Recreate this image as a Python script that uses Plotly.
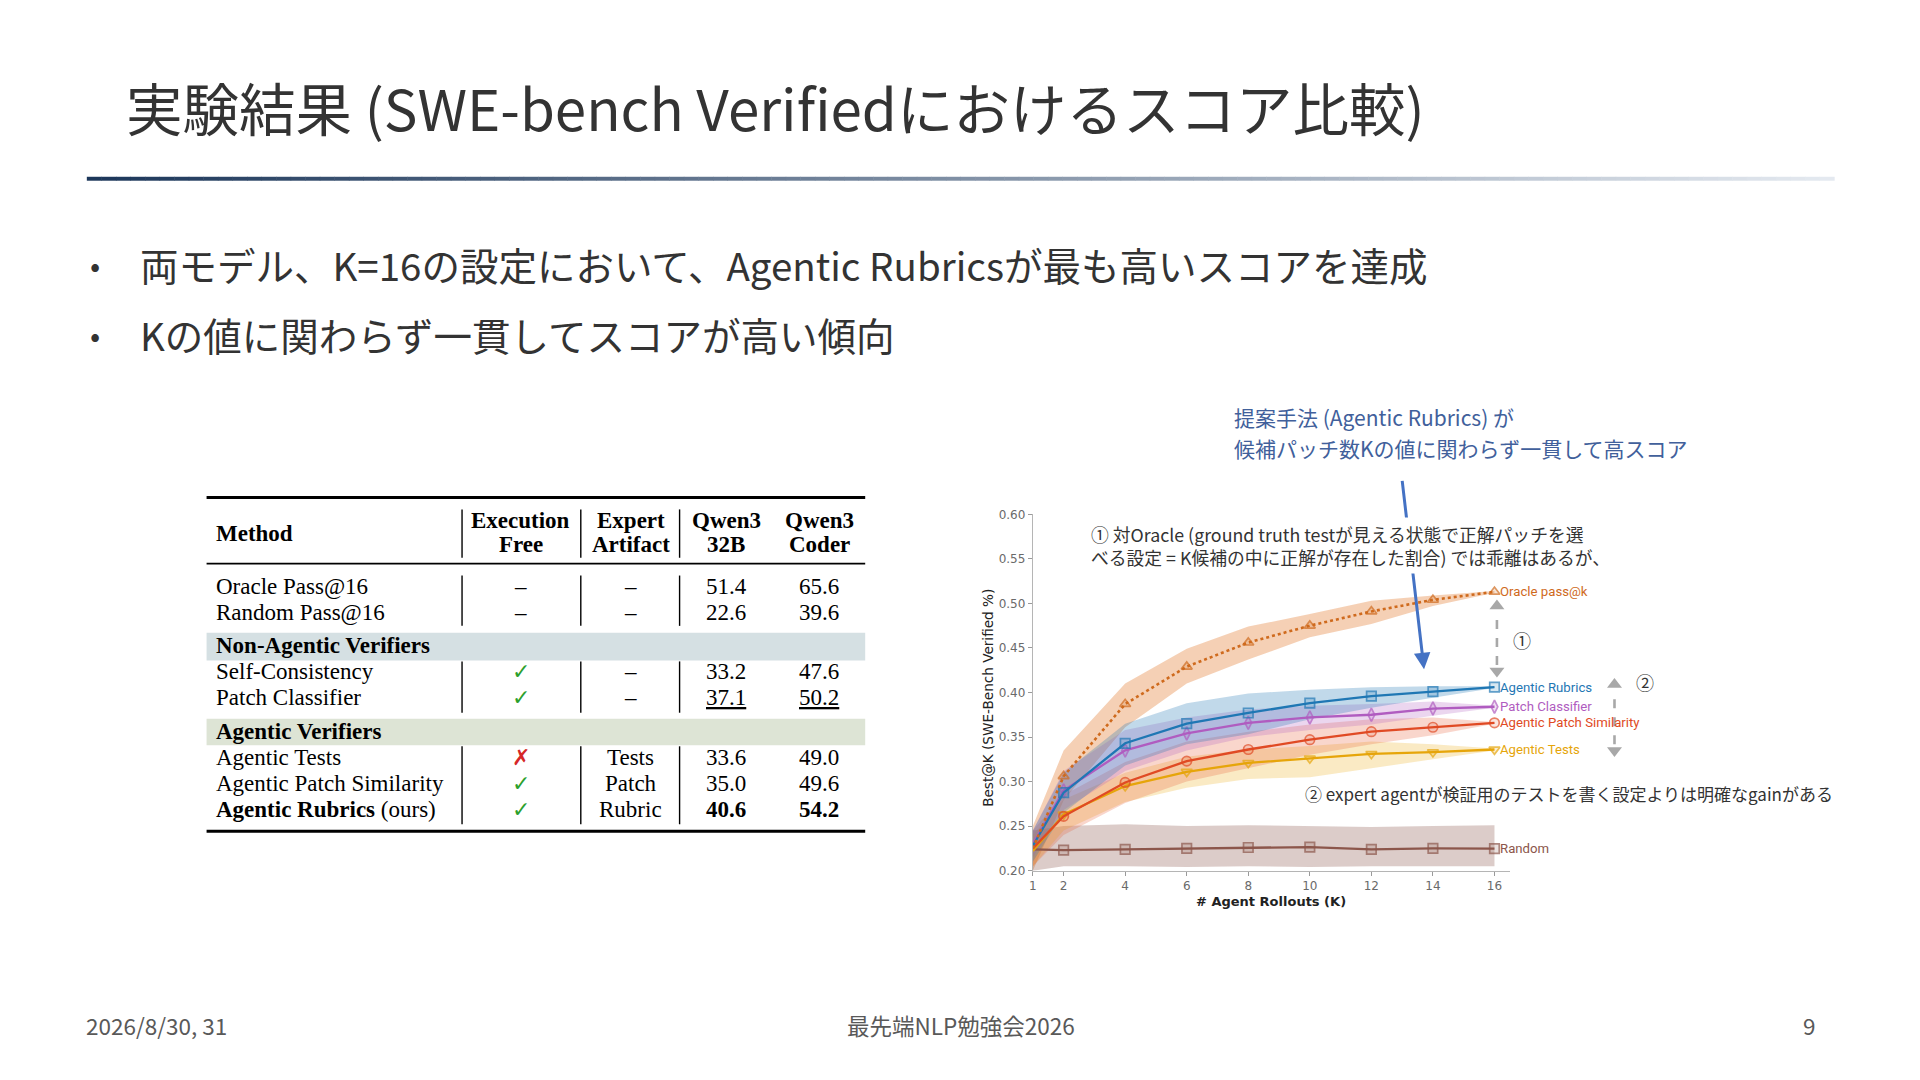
import plotly.graph_objects as go

# ---------------- data ----------------
K = [1, 2, 4, 6, 8, 10, 12, 14, 16]
x_tick_vals = [1, 2, 4, 6, 8, 10, 12, 14, 16]
y_tick_vals = [0.20, 0.25, 0.30, 0.35, 0.40, 0.45, 0.50, 0.55, 0.60]

series_names = ["Oracle pass@k", "Agentic Rubrics", "Patch Classifier",
                "Agentic Patch Similarity", "Agentic Tests", "Random"]

oracle = [0.225, 0.306, 0.387, 0.429, 0.456, 0.475, 0.491, 0.504, 0.513]
oracle_lo = [0.200, 0.279, 0.361, 0.410, 0.437, 0.462, 0.477, 0.497, 0.512]
oracle_hi = [0.250, 0.335, 0.410, 0.449, 0.474, 0.488, 0.503, 0.509, 0.514]

rubrics = [0.228, 0.2875, 0.343, 0.365, 0.377, 0.388, 0.396, 0.401, 0.406]
rubrics_lo = [0.210, 0.265, 0.318, 0.342, 0.353, 0.370, 0.383, 0.394, 0.405]
rubrics_hi = [0.245, 0.310, 0.365, 0.388, 0.399, 0.403, 0.406, 0.407, 0.407]

classifier = [0.230, 0.290, 0.335, 0.354, 0.366, 0.372, 0.375, 0.382, 0.384]
classifier_lo = [0.215, 0.268, 0.312, 0.335, 0.350, 0.358, 0.364, 0.374, 0.383]
classifier_hi = [0.245, 0.312, 0.358, 0.372, 0.381, 0.385, 0.387, 0.390, 0.385]

similarity = [0.225, 0.261, 0.299, 0.323, 0.336, 0.347, 0.356, 0.361, 0.366]
similarity_lo = [0.205, 0.240, 0.276, 0.300, 0.315, 0.330, 0.342, 0.352, 0.365]
similarity_hi = [0.245, 0.285, 0.322, 0.345, 0.356, 0.364, 0.370, 0.372, 0.367]

tests = [0.222, 0.263, 0.295, 0.311, 0.321, 0.326, 0.331, 0.333, 0.336]
tests_lo = [0.205, 0.245, 0.277, 0.293, 0.303, 0.305, 0.315, 0.325, 0.335]
tests_hi = [0.240, 0.280, 0.310, 0.328, 0.336, 0.340, 0.345, 0.342, 0.337]

random_sel = [0.224, 0.223, 0.224, 0.225, 0.226, 0.2265, 0.224, 0.225, 0.2247]
random_lo = [0.200, 0.205, 0.205, 0.204, 0.205, 0.204, 0.205, 0.205, 0.205]
random_hi = [0.245, 0.250, 0.252, 0.250, 0.251, 0.250, 0.249, 0.250, 0.251]

# table data
table_methods = ["Oracle Pass@16", "Random Pass@16", "Self-Consistency", "Patch Classifier",
                 "Agentic Tests", "Agentic Patch Similarity", "Agentic Rubrics"]
table_exec_free = ["–", "–", "✓", "✓", "✗", "✓", "✓"]
table_expert = ["–", "–", "–", "–", "Tests", "Patch", "Rubric"]
table_qwen32b = [51.4, 22.6, 33.2, 37.1, 33.6, 35.0, 40.6]
table_qwencoder = [65.6, 39.6, 47.6, 50.2, 49.0, 49.6, 54.2]
table_groups = ["Non-Agentic Verifiers", "Agentic Verifiers"]

# ---------------- layout helpers ----------------
W, H = 1920, 1080
def px(x):
    return x / W
def py(y):
    return 1 - y / H

JP = "Noto Sans CJK JP"
SERIF = "Liberation Serif"

fig = go.Figure()

def note(x, y, text, size, color, family=JP, xanchor="left", **kw):
    fig.add_annotation(x=px(x), y=py(y), xref="paper", yref="paper", text=text, showarrow=False,
                       xanchor=xanchor, yanchor="middle",
                       font=dict(family=family, size=size, color=color), **kw)

# ---------------- chart ----------------
styles = {
    "Oracle pass@k": dict(color="#cf6a1d", band="rgba(226,125,50,0.36)", symbol="triangle-up",
                          fill="rgba(207,106,29,0.25)", dash="dot"),
    "Agentic Rubrics": dict(color="#1f77b4", band="rgba(31,119,180,0.28)", symbol="square",
                            fill="rgba(31,119,180,0.25)", dash="solid"),
    "Patch Classifier": dict(color="#b05cc0", band="rgba(176,92,192,0.25)", symbol="diamond-tall",
                             fill="rgba(176,92,192,0.25)", dash="solid"),
    "Agentic Patch Similarity": dict(color="#e04a24", band="rgba(230,90,50,0.25)", symbol="circle",
                                     fill="rgba(224,74,36,0.2)", dash="solid"),
    "Agentic Tests": dict(color="#e6a50a", band="rgba(235,170,20,0.25)", symbol="triangle-down",
                          fill="rgba(230,165,10,0.25)", dash="solid"),
    "Random": dict(color="#8c564b", band="rgba(140,86,75,0.3)", symbol="square",
                   fill="rgba(140,86,75,0.25)", dash="solid"),
}
data = {
    "Oracle pass@k": (oracle, oracle_lo, oracle_hi),
    "Agentic Rubrics": (rubrics, rubrics_lo, rubrics_hi),
    "Patch Classifier": (classifier, classifier_lo, classifier_hi),
    "Agentic Patch Similarity": (similarity, similarity_lo, similarity_hi),
    "Agentic Tests": (tests, tests_lo, tests_hi),
    "Random": (random_sel, random_lo, random_hi),
}
band_order = ["Oracle pass@k", "Random", "Agentic Tests", "Agentic Patch Similarity",
              "Patch Classifier", "Agentic Rubrics"]
for name in band_order:
    v, lo, hi = data[name]
    fig.add_trace(go.Scatter(x=K + K[::-1], y=hi + lo[::-1], fill="toself",
                             fillcolor=styles[name]["band"], line=dict(width=0),
                             mode="lines", hoverinfo="skip", showlegend=False))
for name in ["Random", "Agentic Tests", "Agentic Patch Similarity", "Patch Classifier",
             "Agentic Rubrics", "Oracle pass@k"]:
    v, lo, hi = data[name]
    st = styles[name]
    sizes = [0] + [9.5] * (len(K) - 1)
    fig.add_trace(go.Scatter(
        x=K, y=v, mode="lines+markers", name=name, showlegend=False,
        line=dict(color=st["color"], width=2.6 if name == "Oracle pass@k" else 2.3, dash=st["dash"]),
        marker=dict(symbol=st["symbol"], size=sizes, color=st["fill"],
                    line=dict(color=st["color"], width=1.7)),
    ))
    fig.add_annotation(x=K[-1], y=v[-1], xref="x", yref="y", text=name, showarrow=False,
                       xanchor="left", yanchor="middle", xshift=4,
                       font=dict(family="Roboto", size=13.2, color=st["color"]))

x_lo, x_hi = 1, 16.5
dom_x = [px(1031), px(1509)]
dom_y = [py(875), py(514)]
fig.update_layout(
    xaxis=dict(domain=dom_x, range=[x_lo, x_hi], tickvals=x_tick_vals, ticks="outside",
               ticklen=4, tickcolor="#9a9a9a", showline=True, linecolor="#b5b5b5", linewidth=1.2,
               showgrid=False, zeroline=False,
               tickfont=dict(family="DejaVu Sans", size=12, color="#6a6a6a"), anchor="y"),
    yaxis=dict(domain=dom_y, range=[0.2, 0.6], tickvals=y_tick_vals, tickformat=".2f",
               ticks="outside", ticklen=4, tickcolor="#9a9a9a", showline=True,
               linecolor="#b5b5b5", linewidth=1.2, showgrid=False, zeroline=False,
               tickfont=dict(family="DejaVu Sans", size=12, color="#6a6a6a"), anchor="x"),
)

# wider invisible subplot with the same scale, for the gap arrows
unit = (dom_x[1] - dom_x[0]) / (x_hi - x_lo)
dom_x2 = [dom_x[0], px(1760)]
fig.update_layout(
    xaxis2=dict(domain=dom_x2, range=[x_lo, x_lo + (dom_x2[1] - dom_x2[0]) / unit], visible=False,
                anchor="y2"),
    yaxis2=dict(domain=dom_y, range=[0.2, 0.6], visible=False, anchor="x2"),
)
gap_arrows = [(16.08, 0.424, 0.497, "①", 16.9, 0.4585),
              (19.9, 0.335, 0.409, "②", 20.9, 0.4116)]
for gx, gy0, gy1, lab, lx, ly in gap_arrows:
    fig.add_trace(go.Scatter(x=[gx, gx], y=[gy0 + 0.007, gy1 - 0.007], xaxis="x2", yaxis="y2",
                             mode="lines", line=dict(color="#a8a8a8", width=2.6, dash="dash"),
                             hoverinfo="skip", showlegend=False))
    fig.add_trace(go.Scatter(x=[gx, gx], y=[gy0, gy1], xaxis="x2", yaxis="y2", mode="markers",
                             marker=dict(symbol=["triangle-down", "triangle-up"], size=13,
                                         color="#a8a8a8"),
                             hoverinfo="skip", showlegend=False))
    fig.add_annotation(x=lx, y=ly, xref="x2", yref="y2", text=lab, showarrow=False,
                       xanchor="center", yanchor="middle",
                       font=dict(family=JP, size=18, color="#333333"))

# axis titles
note(986, 700, "Best@K (SWE-Bench Verified %)", 13.6, "#222222", family="DejaVu Sans",
     xanchor="center", textangle=-90)
note(1270, 906, "<b># Agent Rollouts (K)</b>", 13, "#222222", family="DejaVu Sans",
     xanchor="center")

# big blue arrow (drawn before the gray text so the text box covers it)
fig.add_annotation(x=px(1423), y=py(671), xref="paper", yref="paper", ax=-22, ay=-190,
                   showarrow=True, arrowhead=2, arrowsize=1.1, arrowwidth=3, arrowcolor="#4472c4",
                   text="")

# explanation texts
note(1231, 415, "提案手法 (Agentic Rubrics) が", 21, "#41609b")
note(1231, 447, "候補パッチ数Kの値に関わらず一貫して高スコア", 21, "#41609b")
note(1085, 545.5, "① 対Oracle (ground truth testが見える状態で正解パッチを選<br>"
                  "べる設定 = K候補の中に正解が存在した割合) では乖離はあるが、",
     17.8, "#333333", bgcolor="white", borderpad=3, align="left")
note(1302, 797, "② expert agentが検証用のテストを書く設定よりは明確なgainがある", 17, "#333333")

# ---------------- table ----------------
shapes = []
def hline(y, x0, x1, w, color="black"):
    shapes.append(dict(type="line", xref="paper", yref="paper", x0=px(x0), x1=px(x1),
                       y0=py(y), y1=py(y), line=dict(color=color, width=w)))
def vline(x, y0, y1, w=1.4):
    shapes.append(dict(type="line", xref="paper", yref="paper", x0=px(x), x1=px(x),
                       y0=py(y0), y1=py(y1), line=dict(color="black", width=w)))
def band(y0, y1, color):
    shapes.append(dict(type="rect", xref="paper", yref="paper", x0=px(203), x1=px(863),
                       y0=py(y1), y1=py(y0), fillcolor=color, line=dict(width=0), layer="below"))

band(634, 662, "#d5e0e3")
band(721, 748, "#dde4d5")
hline(497, 203, 863, 3)
hline(564, 203, 863, 1.8)
hline(835, 203, 863, 3)
for vx in (459, 578, 677):
    vline(vx, 509, 558)
    vline(vx, 576, 627)
    vline(vx, 663, 715)
    vline(vx, 749, 828)

def ttext(x, y, s, anchor="center", size=23, color="black", family=SERIF):
    note(x, y, s, size, color, family=family, xanchor=anchor)

col_method, col_exec, col_expert, col_32b, col_coder = 210, 518, 628, 724, 817
ttext(col_method, 533, "<b>Method</b>", "left")
ttext(col_exec, 520, "<b>Execution</b>")
ttext(col_exec, 545, "<b>Free</b>")
ttext(col_expert, 520, "<b>Expert</b>")
ttext(col_expert, 545, "<b>Artifact</b>")
ttext(col_32b, 520, "<b>Qwen3</b>")
ttext(col_32b, 545, "<b>32B</b>")
ttext(col_coder, 520, "<b>Qwen3</b>")
ttext(col_coder, 545, "<b>Coder</b>")
ttext(col_method, 647, "<b>" + table_groups[0] + "</b>", "left")
ttext(col_method, 734, "<b>" + table_groups[1] + "</b>", "left")

row_y = [587, 613, 673, 700, 760, 787, 813]
best_row = table_qwen32b.index(max(table_qwen32b[2:]))
second_row = 3
for i, m in enumerate(table_methods):
    y = row_y[i]
    name = m
    a = f"{table_qwen32b[i]:.1f}"
    b = f"{table_qwencoder[i]:.1f}"
    if i == best_row:
        name = f"<b>{m}</b> (ours)"
        a, b = f"<b>{a}</b>", f"<b>{b}</b>"
    if i == second_row:
        a, b = f"<u>{a}</u>", f"<u>{b}</u>"
    ttext(col_method, y, name, "left")
    mark = table_exec_free[i]
    if mark == "✓":
        ttext(col_exec, y, mark, size=22, color="#2ca02c", family="DejaVu Sans")
    elif mark == "✗":
        ttext(col_exec, y, mark, size=22, color="#d62728", family="DejaVu Sans")
    else:
        ttext(col_exec, y, mark)
    ttext(col_expert, y, table_expert[i])
    ttext(col_32b, y, a)
    ttext(col_coder, y, b)

# ---------------- slide frame ----------------
note(120, 100, "実験結果 (SWE-bench Verifiedにおけるスコア比較)", 56.5, "#333333")
# gradient rule under the title
n_seg = 120
x_start, x_end = 83, 1834
c0, c1 = (28, 55, 90), (228, 233, 240)
for i in range(n_seg):
    t = i / (n_seg - 1)
    c = tuple(int(round(c0[k] + (c1[k] - c0[k]) * t)) for k in range(3))
    xa = x_start + (x_end - x_start) * i / n_seg
    xb = x_start + (x_end - x_start) * (i + 1) / n_seg + 0.5
    shapes.append(dict(type="rect", xref="paper", yref="paper", x0=px(xa), x1=px(xb),
                       y0=py(176), y1=py(172), fillcolor=f"rgb{c}", line=dict(width=0)))

bullets = ["両モデル、K=16の設定において、Agentic Rubricsが最も高いスコアを達成",
           "Kの値に関わらず一貫してスコアが高い傾向"]
for i, btxt in enumerate(bullets):
    yy = [260, 331][i]
    note(84, yy, "•", 30, "#333333")
    note(134, yy, btxt, 38.5, "#333333")

note(80, 1031, "2026/8/30, 31", 22.5, "#595959")
note(959, 1031, "最先端NLP勉強会2026", 22.5, "#595959", xanchor="center")
note(1818, 1031, "9", 22.5, "#595959", xanchor="right")

fig.update_layout(width=W, height=H, autosize=False, margin=dict(l=0, r=0, t=0, b=0),
                  paper_bgcolor="white", plot_bgcolor="rgba(0,0,0,0)", shapes=shapes,
                  showlegend=False)

fig.write_html("out.html", config={"displayModeBar": False},
               post_script="document.body.style.margin='0';")
